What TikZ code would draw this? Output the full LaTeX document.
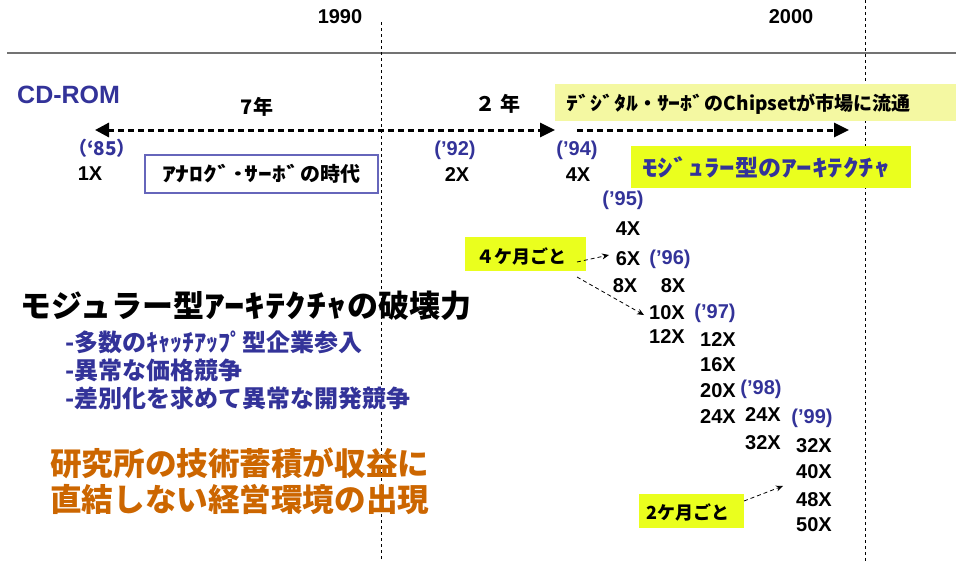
\documentclass[tikz,border=0pt]{standalone}
\usepackage{fontspec}
\setmainfont{Liberation Sans}
\newfontfamily\jp{Noto Sans CJK JP}
\usetikzlibrary{arrows.meta}
\newcommand\hwk[2][1.33]{\scalebox{#1}[1]{#2}}
\definecolor{myblue}{HTML}{333399}
\definecolor{brightyel}{HTML}{EAFF1E}
\definecolor{paleyel}{HTML}{F4F8A2}
\definecolor{orng}{HTML}{CC6600}
\definecolor{boxblue}{HTML}{6666BB}
\begin{document}
\begin{tikzpicture}[x=1pt,y=-1pt,
  every node/.style={inner sep=0pt},
  num/.style={font=\bfseries\fontsize{20}{23}\selectfont},
  yr/.style={num,text=myblue},
  jpt/.style={font={\jp\bfseries\fontsize{#1}{#1}\selectfont}},
  vdash/.style={line width=0.8pt,dash pattern=on 3pt off 3pt},
  bigarrow/.style={line width=3pt,dash pattern=on 6pt off 4pt,
    arrows={-Triangle[length=15pt,width=14pt]}},
  thinarrow/.style={line width=0.8pt,dash pattern=on 4pt off 3pt,
    -{Stealth[length=7pt,width=6pt]}},
  ybox/.style={fill=brightyel,draw=none}
]
\useasboundingbox (0,0) rectangle (956,562);
% frame lines
\coordinate (hl) at (7,53); \coordinate (hr) at (956,53);
\draw[line width=1.5pt,black!55] (hl) -- (hr);
\coordinate (v1t) at (381,22); \coordinate (v1b) at (381,562);
\coordinate (v2t) at (865,0); \coordinate (v2b) at (865,562);
\draw[vdash] (v1t) -- (v1b);
\draw[vdash] (v2t) -- (v2b);
\node[num] (y1990) at (340,17) {1990};
\node[num] (y2000) at (791,17) {2000};
% CD-ROM
\node[anchor=west,font=\bfseries\fontsize{25}{28}\selectfont,text=myblue] (cdrom) at (17,95) {CD-ROM};
\node[jpt=20] (seven) at (257,107) {7年};
\node[jpt=20] (two) at (498,104) {２ 年};
% boxes
\node[fill=paleyel,minimum width=401pt,minimum height=37pt] (digbox) at (755.5,102.5) {};
\node[jpt=19,anchor=west] (digtxt) at (566,104) {\hwk[1.26]{ﾃﾞｼﾞﾀﾙ}・\hwk[1.26]{ｻｰﾎﾞ}のChipsetが市場に流通};
\node[ybox,minimum width=280pt,minimum height=42pt] (modbox) at (771,167) {};
\node[jpt=23,text=myblue] (modtxt) at (766,167) {\hwk[1.35]{ﾓｼﾞｭﾗｰ}型の\hwk[1.35]{ｱｰｷﾃｸﾁｬ}};
\node[draw=boxblue,line width=1.2pt,fill=white,minimum width=233pt,minimum height=38pt] (anbox) at (261.5,174) {};
\node[jpt=20] (antxt) at (261,174) {\hwk[1.38]{ｱﾅﾛｸﾞ･ｻｰﾎﾞ}の時代};
% big arrows
\coordinate (a1l) at (95,130); \coordinate (a1r) at (555,130);
\draw[bigarrow,arrows={Triangle[length=14pt,width=14pt]-Triangle[length=15pt,width=14pt]}] (a1l) -- (a1r);
\coordinate (a2l) at (577,130); \coordinate (a2r) at (849,130);
\draw[bigarrow] (a2l) -- (a2r);
% years and speeds
\node[jpt=19,text=myblue] (y85) at (102,148) {（‘85）};
\node[num] (s1) at (90,174) {1X};
\node[yr] (y92) at (455,150) {(’92)};
\node[num] (s2) at (457,175) {2X};
\node[yr] (y94) at (577,150) {(’94)};
\node[num] (s4a) at (578,175) {4X};
\node[yr] (y95) at (623,200) {(’95)};
\node[num] (s4b) at (628,229) {4X};
\node[num] (s6) at (628,259) {6X};
\node[yr] (y96) at (670,259) {(’96)};
\node[num] (s8a) at (625,286) {8X};
\node[num] (s8b) at (673,286) {8X};
\node[num] (s10) at (667,313) {10X};
\node[yr] (y97) at (715,313) {(’97)};
\node[num] (s12a) at (667,337) {12X};
\node[num] (s12b) at (718,340) {12X};
\node[num] (s16) at (718,365) {16X};
\node[num] (s20) at (718,391) {20X};
\node[yr] (y98) at (761,389) {(’98)};
\node[num] (s24a) at (718,417) {24X};
\node[num] (s24b) at (763,415) {24X};
\node[yr] (y99) at (812,418) {(’99)};
\node[num] (s32a) at (763,443) {32X};
\node[num] (s32b) at (814,446) {32X};
\node[num] (s40) at (814,472) {40X};
\node[num] (s48) at (814,500) {48X};
\node[num] (s50) at (814,525) {50X};
% interval boxes
\node[ybox,minimum width=121pt,minimum height=34pt] (m4box) at (525.5,254) {};
\node[jpt=18] (m4txt) at (521,256) {４ケ月ごと};
\node[ybox,minimum width=105pt,minimum height=34pt] (m2box) at (691.5,511) {};
\node[jpt=18] (m2txt) at (688,512) {2ケ月ごと};
\coordinate (t1s) at (577,262); \coordinate (t1e) at (609,255);
\draw[thinarrow] (t1s) -- (t1e);
\coordinate (t2s) at (577,277); \coordinate (t2e) at (644,315);
\draw[thinarrow] (t2s) -- (t2e);
\coordinate (t3s) at (744,501); \coordinate (t3e) at (783,486);
\draw[thinarrow] (t3s) -- (t3e);
% left texts
\node[jpt=31,anchor=west] (title) at (20,306) {モジュラー型\hwk[1.32]{ｱｰｷﾃｸﾁｬ}の破壊力};
\node[jpt=24,anchor=west,text=myblue] (l1) at (65,342) {-多数のｷｬｯﾁｱｯﾌﾟ型企業参入};
\node[jpt=24,anchor=west,text=myblue] (l2) at (65,370) {-異常な価格競争};
\node[jpt=24,anchor=west,text=myblue] (l3) at (65,398) {-差別化を求めて異常な開発競争};
\node[jpt=31.6,anchor=west,text=orng] (o1) at (50,463) {研究所の技術蓄積が収益に};
\node[jpt=31.6,anchor=west,text=orng] (o2) at (50,500) {直結しない経営環境の出現};
\end{tikzpicture}
\end{document}
